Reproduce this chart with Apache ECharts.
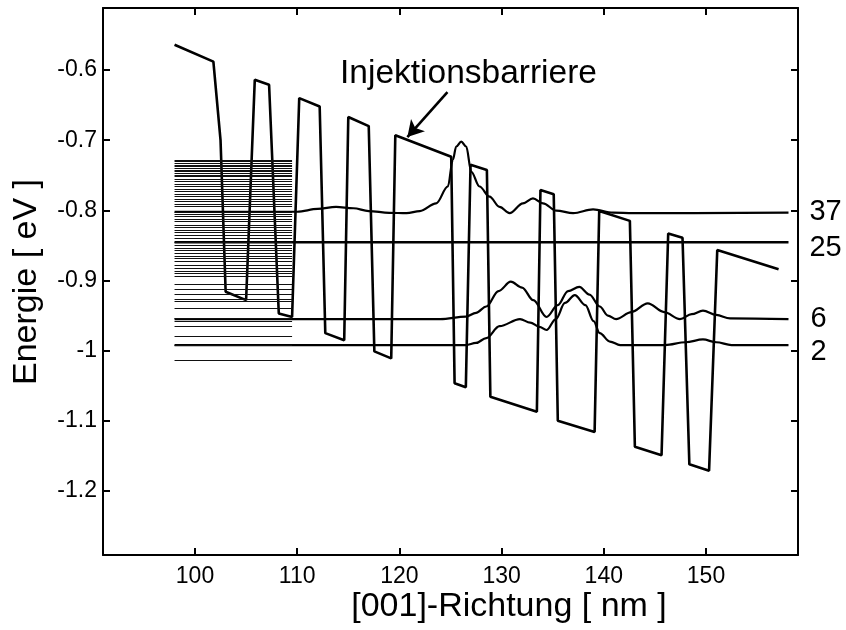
<!DOCTYPE html>
<html>
<head>
<meta charset="utf-8">
<script src="https://cdn.jsdelivr.net/npm/echarts@6/dist/echarts.min.js"></script>
<style>
html,body{margin:0;padding:0;background:#fff;}
#chart{width:846px;height:630px;}
</style>
</head>
<body>
<div id="chart"></div>
<script>
// ---- data ----
const xTicks = [100, 110, 120, 130, 140, 150];
const yTicks = [-1.2, -1.1, -1.0, -0.9, -0.8, -0.7, -0.6];

// conduction band edge profile
const bandX = [98.0, 101.8, 102.5, 103.0, 105.0, 105.85, 107.25, 108.2, 109.5, 110.2, 112.2, 112.75, 114.6, 115.0, 117.0, 117.55, 119.2, 119.6, 125.07, 125.4, 126.5, 126.96, 128.56, 128.9, 133.45, 133.8, 135.1, 135.5, 139.1, 139.55, 142.55, 143.04, 145.65, 146.3, 147.7, 148.37, 150.3, 151.1, 157.1];
const bandE = [-0.564, -0.588, -0.70, -0.916, -0.928, -0.614, -0.621, -0.947, -0.952, -0.640, -0.652, -0.975, -0.985, -0.667, -0.680, -1.001, -1.011, -0.693, -0.7235, -1.0465, -1.052, -0.735, -0.7425, -1.0655, -1.087, -0.771, -0.777, -1.0998, -1.116, -0.801, -0.815, -1.137, -1.149, -0.833, -0.839, -1.162, -1.171, -0.8565, -0.884];

// wavefunction state 37
const wf37X = [98.0, 110.0, 112.0, 113.8, 115.5, 117.0, 119.0, 120.7, 122.0, 123.6, 124.74, 125.23, 125.56, 126.05, 126.54, 127.03, 127.84, 128.82, 129.8, 130.78, 132.09, 133.07, 134.05, 135.36, 137.0, 138.95, 140.9, 142.87, 158.07];
const wf37E = [-0.802, -0.802, -0.798, -0.795, -0.797, -0.801, -0.8035, -0.804, -0.801, -0.79, -0.766, -0.728, -0.709, -0.702, -0.709, -0.745, -0.766, -0.7805, -0.795, -0.804, -0.79, -0.783, -0.79, -0.8005, -0.804, -0.7985, -0.8033, -0.804, -0.8033];

// state 25 (flat)
const wf25X = [98.0, 158.07];
const wf25E = [-0.8455, -0.8455];

// state 6
const wf6X = [98.0, 124.0, 126.5, 127.5, 128.5, 129.7, 130.9, 132.0, 133.1, 134.4, 135.5, 136.5, 137.6, 138.6, 139.6, 140.4, 141.2, 142.7, 144.3, 145.9, 147.45, 148.6, 149.7, 151.0, 152.35, 158.07];
const wf6E = [-0.955, -0.955, -0.9516, -0.946, -0.937, -0.915, -0.9017, -0.91, -0.928, -0.952, -0.935, -0.915, -0.909, -0.92, -0.937, -0.95, -0.955, -0.945, -0.9325, -0.945, -0.955, -0.948, -0.943, -0.949, -0.954, -0.955];

// state 2
const wf2X = [98.0, 126.5, 127.5, 128.5, 129.8, 131.8, 132.8, 133.7, 134.4, 135.3, 136.2, 137.16, 138.2, 139.0, 139.6, 140.6, 141.6, 146.0, 148.0, 149.7, 151.0, 152.5, 158.07];
const wf2E = [-0.992, -0.992, -0.989, -0.982, -0.965, -0.955, -0.96, -0.966, -0.9705, -0.955, -0.932, -0.9207, -0.935, -0.958, -0.975, -0.987, -0.992, -0.992, -0.988, -0.984, -0.988, -0.992, -0.992];

// eigen-energies (thin level lines on the left)
const levelStart = 98.0;
const levelEnd = 109.5;
const levelE = [-0.7283, -0.7307, -0.7330, -0.7354, -0.7378, -0.7401, -0.7425, -0.7449, -0.7472, -0.7496, -0.7521, -0.7553, -0.7592, -0.7625, -0.7663, -0.7700, -0.7734, -0.7767, -0.7806, -0.7843, -0.7877, -0.7910, -0.7948, -0.8025, -0.8052, -0.8091, -0.8128, -0.8162, -0.8209, -0.8242, -0.8280, -0.8319, -0.8351, -0.8398, -0.8455, -0.8494, -0.8541, -0.8575, -0.8612, -0.8661, -0.8684, -0.8732, -0.8779, -0.8826, -0.8874, -0.8897, -0.8946, -0.9050, -0.9121, -0.9192, -0.9268, -0.9302, -0.9392, -0.9539, -0.9577, -0.9658, -0.9791, -0.9919, -1.0133];

// right-hand state labels
const stateLabels = ['37', '25', '6', '2'];
const stateE = [-0.8033, -0.8455, -0.955, -0.992];

// annotation
const annotText = 'Injektionsbarriere';
const annotTextPos = [126.76, -0.6057];
const arrowFrom = [124.7, -0.6314];
const arrowTo = [120.78, -0.6955];

const xName = '[001]-Richtung [ nm ]';
const yName = 'Energie [ eV ]';

// ---- chart ----
const FONT = 'Liberation Sans, Arial, Helvetica, sans-serif';
const zip = (a, b) => a.map((v, i) => [v, b[i]]);
const chart = echarts.init(document.getElementById('chart'), null, {renderer: 'canvas'});

const axisCommon = {
  type: 'value',
  axisLine: {show: true, onZero: false, lineStyle: {color: '#000', width: 2}},
  splitLine: {show: false}
};
const labelOffsets = [[16, -1], [16, 6], [17, 0], [17, 7]];

const option = {
  animation: false,
  backgroundColor: '#fff',
  grid: {left: 103, right: 48, top: 8, bottom: 75},
  xAxis: [
    Object.assign({}, axisCommon, {
      min: 91, max: 159, position: 'bottom',
      axisTick: {show: true, inside: true, length: 7, customValues: xTicks, lineStyle: {color: '#000', width: 2}},
      axisLabel: {show: true, customValues: xTicks, color: '#000', fontSize: 23, fontFamily: FONT, margin: 10}
    }),
    Object.assign({}, axisCommon, {
      min: 91, max: 159, position: 'top',
      axisTick: {show: true, inside: true, length: 7, customValues: xTicks, lineStyle: {color: '#000', width: 2}},
      axisLabel: {show: false}
    })
  ],
  yAxis: [
    Object.assign({}, axisCommon, {
      min: -1.2912, max: -0.5116, position: 'left',
      axisTick: {show: true, inside: true, length: 7, customValues: yTicks, lineStyle: {color: '#000', width: 2}},
      axisLabel: {show: true, customValues: yTicks, color: '#000', fontSize: 23, fontFamily: FONT, margin: 6,
        formatter: v => String(Math.round(v * 10) / 10)}
    }),
    Object.assign({}, axisCommon, {
      min: -1.2912, max: -0.5116, position: 'right',
      axisTick: {show: true, inside: true, length: 7, customValues: yTicks, lineStyle: {color: '#000', width: 2}},
      axisLabel: {show: false}
    })
  ],
  series: [
    {
      name: 'levels', type: 'line', data: [], silent: true,
      markLine: {
        silent: true, symbol: ['none', 'none'], animation: false,
        label: {show: false},
        lineStyle: {type: 'solid', color: '#111', width: 1},
        emphasis: {disabled: true},
        data: levelE.map(e => [{coord: [levelStart, e]}, {coord: [levelEnd, e]}])
      }
    },
    {
      name: 'band', type: 'line', data: zip(bandX, bandE), showSymbol: false, symbol: 'none',
      lineStyle: {color: '#000', width: 2.6}, silent: true
    },
    {
      name: 'wf37', type: 'line', data: zip(wf37X, wf37E), showSymbol: false, symbol: 'none',
      smooth: 0.35, smoothMonotone: 'x', lineStyle: {color: '#000', width: 2.2}, silent: true
    },
    {
      name: 'wf25', type: 'line', data: zip(wf25X, wf25E), showSymbol: false, symbol: 'none',
      lineStyle: {color: '#000', width: 2.6}, silent: true
    },
    {
      name: 'wf6', type: 'line', data: zip(wf6X, wf6E), showSymbol: false, symbol: 'none',
      smooth: 0.35, smoothMonotone: 'x', lineStyle: {color: '#000', width: 2.2}, silent: true
    },
    {
      name: 'wf2', type: 'line', data: zip(wf2X, wf2E), showSymbol: false, symbol: 'none',
      smooth: 0.35, smoothMonotone: 'x', lineStyle: {color: '#000', width: 2.2}, silent: true
    },
    {
      name: 'annot', type: 'line', data: [], silent: true,
      markLine: {
        silent: true, animation: false,
        symbol: ['none', 'arrow'], symbolSize: [14, 16],
        label: {show: false},
        lineStyle: {type: 'solid', color: '#000', width: 2.6},
        emphasis: {disabled: true},
        data: [[{coord: arrowFrom}, {coord: arrowTo}]]
      },
      markPoint: {
        silent: true, animation: false,
        symbol: 'circle', symbolSize: 0,
        label: {show: true, position: 'inside', color: '#000', fontSize: 33.5, fontFamily: FONT},
        data: [{coord: annotTextPos, value: annotText, label: {formatter: annotText}}]
      }
    },
    {
      name: 'stateLabels', type: 'line', data: [], silent: true,
      markPoint: {
        silent: true, animation: false,
        symbol: 'circle', symbolSize: 0,
        label: {show: true, position: 'right', color: '#000', fontSize: 29, fontFamily: FONT},
        data: stateLabels.map((s, i) => ({
          coord: [158.07, stateE[i]], value: s,
          label: {formatter: s, offset: labelOffsets[i]}
        }))
      }
    }
  ],
  graphic: [
    {type: 'text', x: 509, y: 607, style: {text: xName, fill: '#000', font: '34px ' + FONT, textAlign: 'center', textVerticalAlign: 'middle'}},
    {type: 'text', x: 27, y: 282, rotation: Math.PI / 2, style: {text: yName, fill: '#000', font: '34px ' + FONT, textAlign: 'center', textVerticalAlign: 'middle'}}
  ]
};
chart.setOption(option);
</script>
</body>
</html>
